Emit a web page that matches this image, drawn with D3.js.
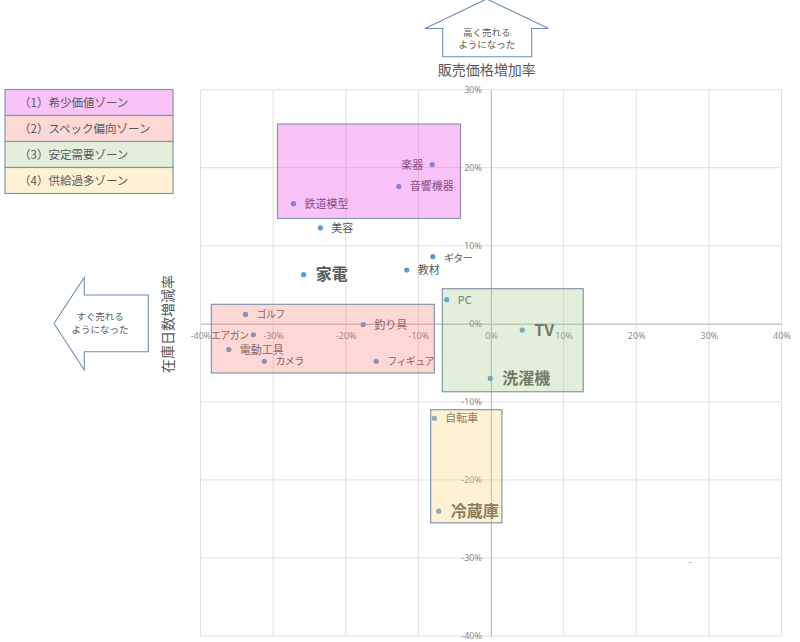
<!DOCTYPE html>
<html>
<head>
<meta charset="utf-8">
<script src="https://cdn.jsdelivr.net/npm/d3@7"></script>
<style>
  body { margin: 0; background: #fff; }
  svg { display: block; font-family: "Noto Sans CJK JP", "Noto Sans", sans-serif; }
</style>
</head>
<body>
<script>
(function(){
'use strict';

// items: name, stock-days change (%), selling price change (%)
var names   = ['楽器', '音響機器', '鉄道模型', '美容', 'ギター', '教材', '家電', 'PC', 'TV', '洗濯機',
               '自転車', '冷蔵庫', 'ゴルフ', '釣り具', 'エアガン', '電動工具', 'カメラ', 'フィギュア'];
var xValues = [-8.1, -12.7, -27.2, -23.5, -8.0, -11.6, -25.8, -6.1, 4.3, -0.1,
               -7.8, -7.2, -33.8, -17.6, -32.7, -36.1, -31.2, -15.8];
var yValues = [20.4, 17.6, 15.4, 12.3, 8.6, 6.9, 6.3, 3.1, -0.8, -7.0,
               -12.1, -24.0, 1.2, -0.1, -1.4, -3.3, -4.8, -4.8];
var bigNames  = ['家電', 'TV', '洗濯機', '冷蔵庫'];
var leftNames = ['楽器', 'エアガン'];

// zones: [x0, x1, y0, y1] in %
var zoneNames = ['（1）希少価値ゾーン', '（2）スペック偏向ゾーン', '（3）安定需要ゾーン', '（4）供給過多ゾーン'];
var zoneX0 = [-29.4, -38.5, -6.7, -8.3];
var zoneX1 = [-4.2, -7.8, 12.7, 1.5];
var zoneY0 = [25.6, 2.5, 4.5, -11.0];
var zoneY1 = [13.5, -6.3, -8.7, -25.5];
var zoneColors = ['#fac3f8', '#fdd8d4', '#e3efdb', '#fff2d4'];     // as seen on white
var zoneInk    = ['#ee37e8', '#f87d70', '#a2ca87', '#ffd470'];     // same, at 30% over the plot

var xTicks = [-40, -30, -20, -10, 0, 10, 20, 30, 40];
var yTicks = [-40, -30, -20, -10, 0, 10, 20, 30];
var strayX = [27.4];
var strayY = [-30.5];

var W = 800, H = 642;
var textColor = '#595959';
var pointColor = '#5b9bd5';
var edgeColor = '#8497b0';

var svg = d3.select('body').append('svg')
  .attr('width', W)
  .attr('height', H);

var x = d3.scaleLinear().domain([-40, 40]).range([200.5, 781.5]);
var y = d3.scaleLinear().domain([-40, 30]).range([636, 89.7]);

// gridlines
svg.append('g').selectAll('line').data(xTicks).enter().append('line')
  .attr('x1', function(d){ return x(d); })
  .attr('x2', function(d){ return x(d); })
  .attr('y1', y(30)).attr('y2', y(-40))
  .attr('stroke', '#e0e0e0').attr('stroke-width', 1);
svg.append('g').selectAll('line').data(yTicks).enter().append('line')
  .attr('y1', function(d){ return y(d); })
  .attr('y2', function(d){ return y(d); })
  .attr('x1', x(-40)).attr('x2', x(40))
  .attr('stroke', '#e0e0e0').attr('stroke-width', 1);

// axes through the origin
var fmt = function(d){ return d + '%'; };
var xAxis = svg.append('g')
  .attr('transform', 'translate(0,' + y(0) + ')')
  .call(d3.axisBottom(x).tickValues(xTicks).tickFormat(fmt).tickSize(0).tickPadding(9));
var yAxis = svg.append('g')
  .attr('transform', 'translate(' + x(0) + ',0)')
  .call(d3.axisLeft(y).tickValues(yTicks).tickFormat(fmt).tickSize(0).tickPadding(9));
[xAxis, yAxis].forEach(function(a){
  a.select('.domain').attr('stroke', '#bfbfbf');
  a.selectAll('text').attr('fill', '#8c8c8c').attr('font-size', 9)
    .attr('font-family', '"Noto Sans", sans-serif');
});

// points
var items = names.map(function(n, i){ return {name: n, x: xValues[i], y: yValues[i]}; });
function isBig(d){ return bigNames.indexOf(d.name) >= 0; }
function isLeft(d){ return leftNames.indexOf(d.name) >= 0; }
function isKana(d){ return /^[ァ-ヶー]+$/.test(d.name); }

svg.append('g').selectAll('circle').data(items).enter().append('circle')
  .attr('cx', function(d){ return x(d.x); })
  .attr('cy', function(d){ return y(d.y); })
  .attr('r', 2.6)
  .attr('fill', pointColor);

svg.append('g').selectAll('text').data(items).enter().append('text')
  .attr('x', function(d){
    if (isLeft(d)) return x(d.x) - (d.name === 'エアガン' ? 5 : 9);
    return x(d.x) + (isBig(d) ? 12 : 11);
  })
  .attr('y', function(d){ return y(d.y) + (isBig(d) ? 5.5 : (d.name === 'ギター' ? 5 : 4)); })
  .attr('text-anchor', function(d){ return isLeft(d) ? 'end' : 'start'; })
  .attr('font-size', function(d){ return isBig(d) ? 16 : (isKana(d) ? 10 : 11); })
  .attr('letter-spacing', function(d){ return isKana(d) ? -0.6 : 0; })
  .attr('font-weight', function(d){ return isBig(d) ? 'bold' : 'normal'; })
  .attr('fill', textColor)
  .text(function(d){ return d.name; });

svg.append('g').selectAll('text').data(strayX).enter().append('text')
  .attr('x', function(d){ return x(d); })
  .attr('y', function(d, i){ return y(strayY[i]) + 3; })
  .attr('text-anchor', 'middle')
  .attr('font-size', 9)
  .attr('fill', pointColor)
  .text('-');

// zone boxes drawn over the points, mostly transparent
var zones = zoneNames.map(function(n, i){
  return {name: n, x0: zoneX0[i], x1: zoneX1[i], y0: zoneY0[i], y1: zoneY1[i],
          color: zoneColors[i], ink: zoneInk[i]};
});

svg.append('g').selectAll('rect').data(zones).enter().append('rect')
  .attr('x', function(d){ return x(d.x0); })
  .attr('y', function(d){ return y(d.y0); })
  .attr('width', function(d){ return x(d.x1) - x(d.x0); })
  .attr('height', function(d){ return y(d.y1) - y(d.y0); })
  .attr('fill', function(d){ return d.ink; })
  .attr('fill-opacity', 0.3)
  .attr('stroke', edgeColor)
  .attr('stroke-width', 1.2);

// legend
var legend = svg.append('g').attr('transform', 'translate(5,89.5)');
var row = legend.selectAll('g').data(zones).enter().append('g')
  .attr('transform', function(d, i){ return 'translate(0,' + (i * 26) + ')'; });
row.append('rect')
  .attr('width', 168).attr('height', 26)
  .attr('fill', function(d){ return d.color; })
  .attr('stroke', edgeColor).attr('stroke-width', 1.2);
row.append('text')
  .attr('x', 14).attr('y', 17.5)
  .attr('font-size', 11.5)
  .attr('fill', textColor)
  .text(function(d){ return d.name; });

// arrows
var upArrow = [[486.7, -1], [548.5, 28.5], [531.7, 28.5], [531.7, 56.7], [442.7, 56.7], [442.7, 28.5], [425, 28.5]];
var leftArrow = [[54, 323.5], [84.3, 277.3], [84.3, 295], [148.3, 295], [148.3, 351.7], [84.3, 351.7], [84.3, 370]];
[upArrow, leftArrow].forEach(function(p){
  svg.append('path')
    .attr('d', d3.line()(p) + 'Z')
    .attr('fill', '#fff')
    .attr('stroke', '#6f8db0')
    .attr('stroke-width', 1.1);
});

function twoLines(cx, cy, a, b){
  svg.append('text').attr('x', cx).attr('y', cy).attr('text-anchor', 'middle')
    .attr('font-size', 9.5).attr('fill', textColor).text(a);
  svg.append('text').attr('x', cx).attr('y', cy + 12.5).attr('text-anchor', 'middle')
    .attr('font-size', 9.5).attr('fill', textColor).text(b);
}
twoLines(486.7, 35.5, '高く売れる', 'ようになった');
twoLines(100, 320, 'すぐ売れる', 'ようになった');

// axis titles
svg.append('text')
  .attr('x', 486.7).attr('y', 75)
  .attr('text-anchor', 'middle')
  .attr('font-size', 14)
  .attr('fill', textColor)
  .text('販売価格増加率');

svg.append('text')
  .attr('transform', 'translate(173,324) rotate(-90)')
  .attr('text-anchor', 'middle')
  .attr('font-size', 14)
  .attr('fill', textColor)
  .text('在庫日数増減率');

})();
</script>
</body>
</html>
